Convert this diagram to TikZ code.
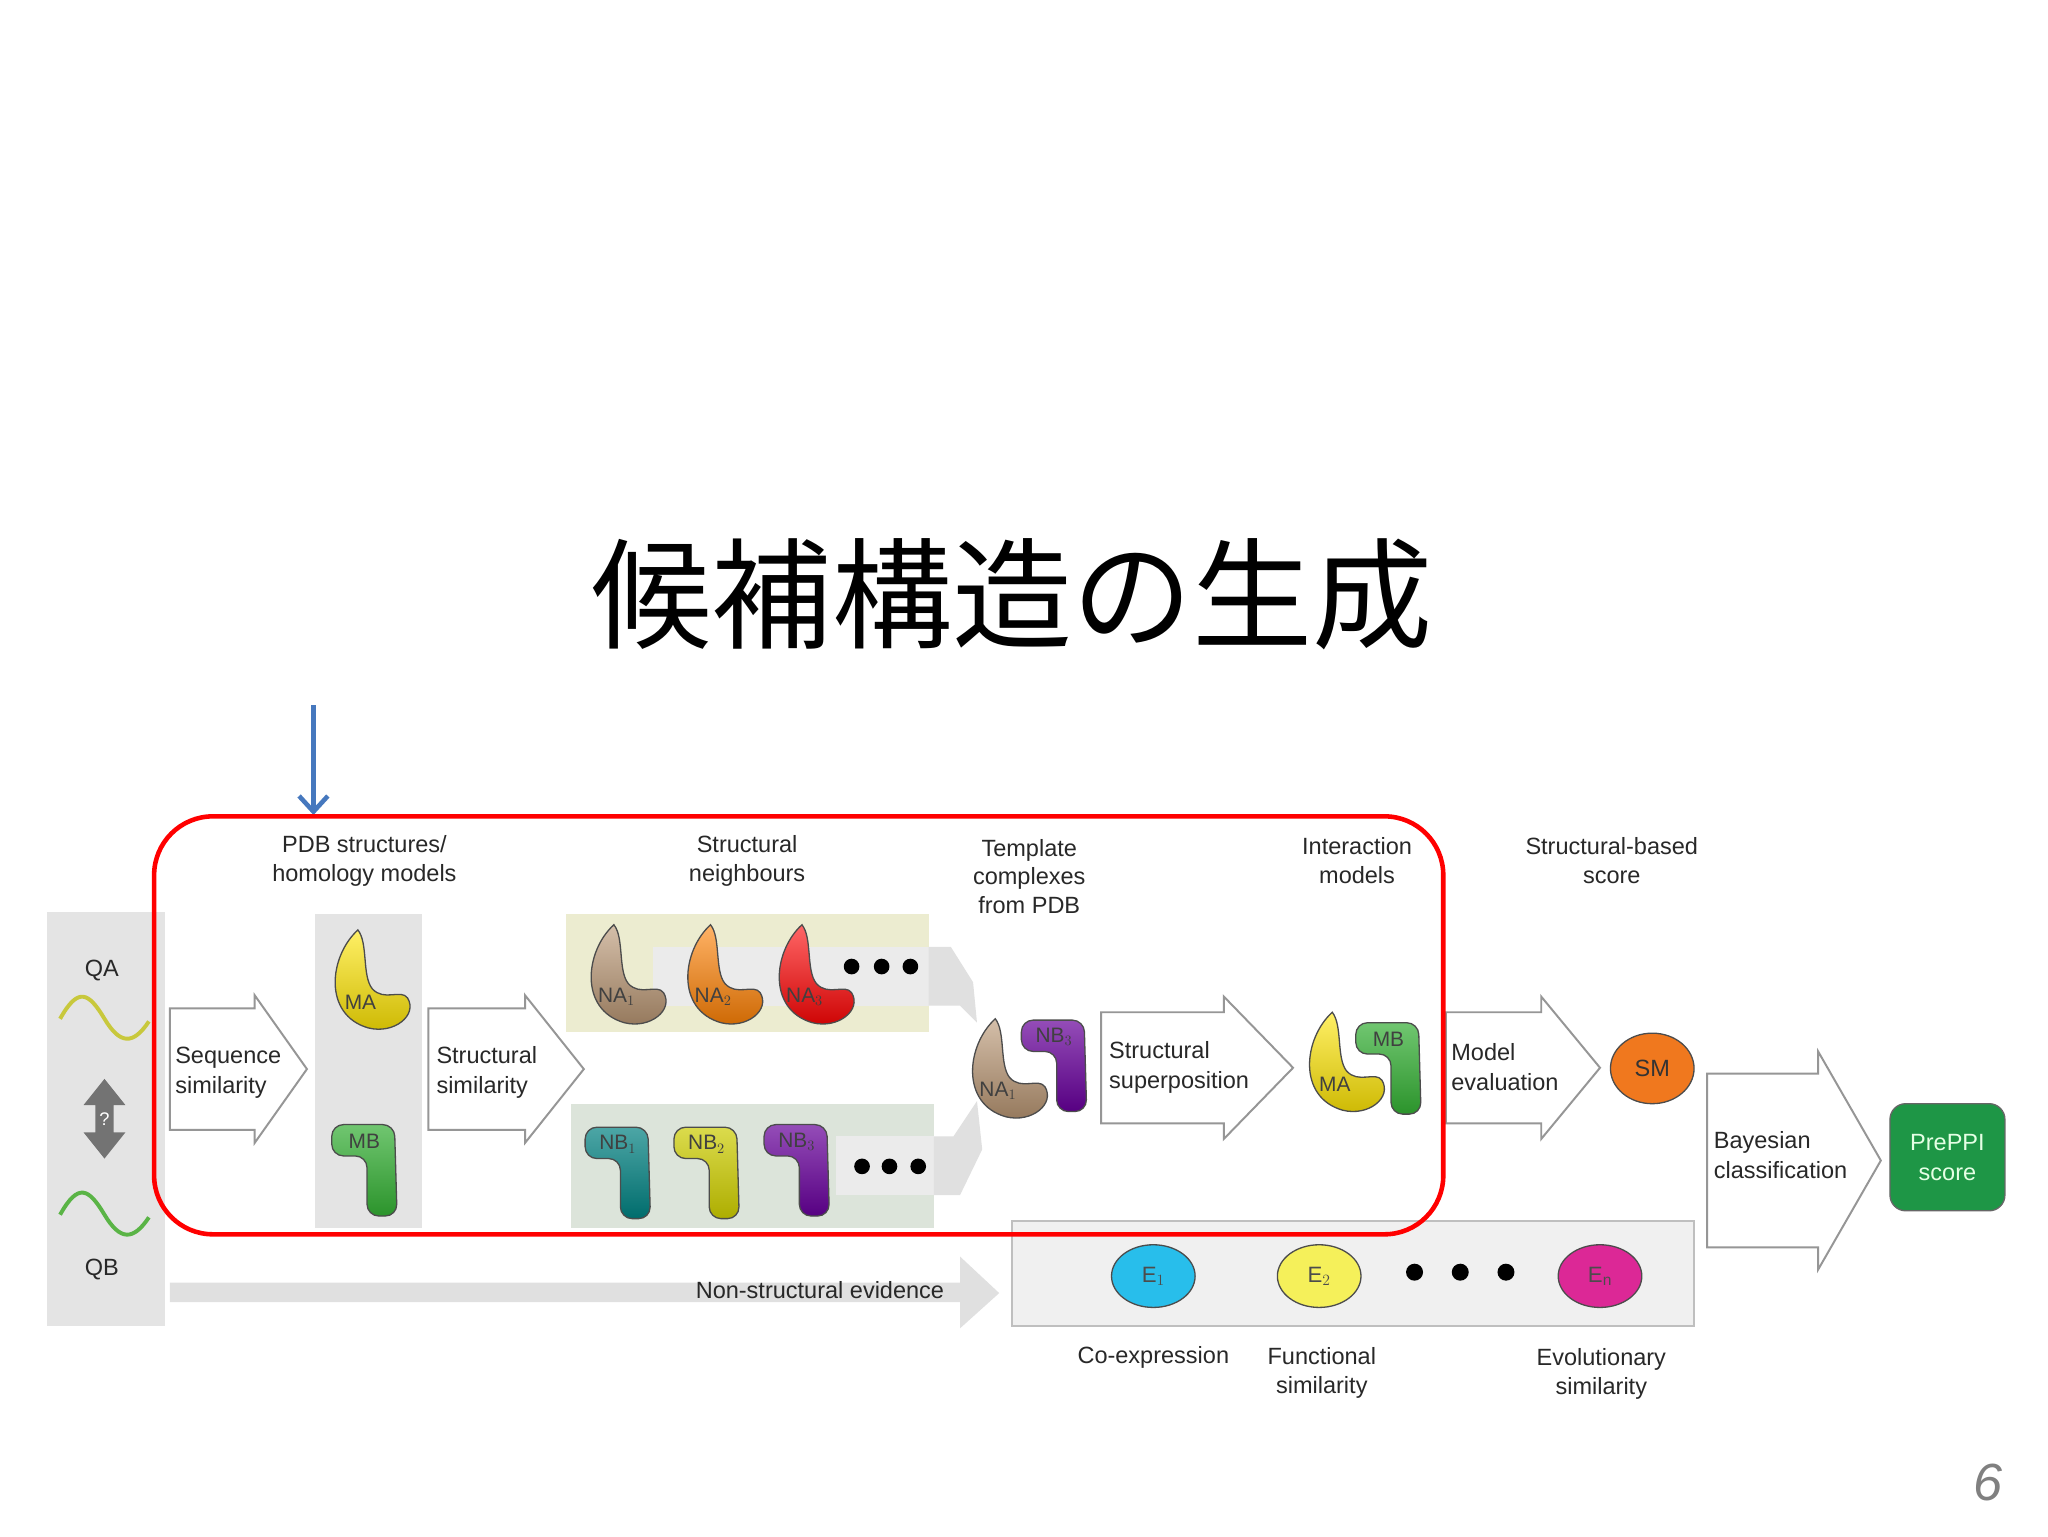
\documentclass[tikz,border=0pt]{standalone}
\usepackage{fontspec}
\setmainfont{Liberation Sans}
\newfontfamily\cjk{Noto Sans CJK JP}
\usetikzlibrary{arrows.meta,shapes.geometric}
\definecolor{txt}{RGB}{40,40,40}
\definecolor{panel}{RGB}{228,228,228}
\definecolor{ybox}{RGB}{236,236,208}
\definecolor{gbox}{RGB}{220,228,218}
\definecolor{arr}{RGB}{150,150,150}
\tikzset{
  lab/.style={font=\fontsize{18}{22}\selectfont, text=txt, align=center, inner sep=0pt},
  labl/.style={font=\fontsize{18}{23}\selectfont, text=txt, align=left, inner sep=0pt, anchor=west},
  blk/.style={draw=arr, line width=1.5pt, fill=white, line join=miter},
  prot/.style={draw=black!70, line width=1pt},
  pics/na/.style args={#1/#2}{code={
    \path[prot, top color=#1!60!white, bottom color=#1!80!black]
      (-8,-40) .. controls (-30,-20) and (-35,25) .. (0,35) .. controls (20,40) and (38,25) .. (30,12)
      .. controls (25,5) and (12,15) .. (3,5) .. controls (-5,-5) and (0,-30) .. (-8,-40) -- cycle;
    \node[font=\fontsize{16}{18}\selectfont, text=black!75] at (-6,15) {#2};}},
  pics/nb/.style args={#1/#2}{code={
    \path[prot, rounded corners=9pt, top color=#1!70!white, bottom color=#1!85!black]
      (-30,-32) -- (18,-32) -- (20,38) -- (-3,38) -- (-3,-8) -- (-30,-8) -- cycle;
    \node[font=\fontsize{16}{18}\selectfont, text=black!75] at (-5,-19) {#2};}},
}
\newcommand{\blkarrow}[7]{% x1 x2 xtip yb1 yb2 yh1 yh2
  \path[blk] (#1,#4) -- (#2,#4) -- (#2,#6) -- (#3,{(#4+#5)/2}) -- (#2,#7) -- (#2,#5) -- (#1,#5) -- cycle;}
\begin{document}
\begin{tikzpicture}[x=1pt,y=-1pt]
\useasboundingbox[fill=white] (0,0) rectangle (1568,1176);
% title
\node (title) at (775,455) {\cjk\fontsize{92}{100}\selectfont 候補構造の生成};
\node[text=gray, font=\fontsize{40}{44}\selectfont\itshape] (pg) at (1522,1135) {6};
% blue arrow
\coordinate (b1) at (240,540); \coordinate (b2) at (240,624);
\draw[line width=3.5pt, color={rgb,255:red,70;green,120;blue,190}, -{Straight Barb[length=12pt,width=22pt]}] (b1) -- (b2);
% left panel
\fill[panel] (36,698) rectangle (126,1015);
\node[lab] (qa) at (78,743) {QA};
\node[lab] (qb) at (78,972) {QB};
\draw[line width=3pt, color={rgb,255:red,200;green,200;blue,60}] (46,780) .. controls (60,755) and (68,760) .. (80,780) .. controls (92,800) and (102,800) .. (114,782);
\draw[line width=3pt, color={rgb,255:red,90;green,180;blue,70}] (46,930) .. controls (60,905) and (68,910) .. (80,930) .. controls (92,950) and (102,950) .. (114,932);
\fill[black!55] (80,826) -- (96,846) -- (87,846) -- (87,867) -- (96,867) -- (80,887) -- (64,867) -- (73,867) -- (73,846) -- (64,846) -- cycle;
\node[text=white, font=\fontsize{14}{16}\selectfont] (q) at (80,857) {?};
% MA/MB column
\fill[panel] (241,700) rectangle (323,940);
\pic at (282,752) {na={yellow!80!orange/MA}};
\pic at (284,893) {nb={green!60!black!80!white/MB}};
% arrows
\blkarrow{130}{195}{235}{772}{865}{762}{875}
\node[labl] (seq) at (134,821) {Sequence\\similarity};
\blkarrow{328}{402}{447}{772}{865}{762}{875}
\node[labl] (ss) at (334,821) {Structural\\similarity};
% neighbour boxes
\fill[ybox] (433,700) rectangle (711,790);
\fill[gbox] (437,845) rectangle (715,940);
\fill[black!8] (500,725) rectangle (711,770);
\fill[black!8] (640,870) rectangle (715,915);
\path[fill=black!12] (711,725) -- (728,725) -- (745,752) -- (748,783) -- (735,770) -- (711,770) -- cycle;
\path[fill=black!12] (715,870) -- (730,870) -- (748,843) -- (752,880) -- (735,915) -- (715,915) -- cycle;
\pic at (478,748) {na={brown!80!black!70!white/NA$_1$}};
\pic at (552,748) {na={orange/NA$_2$}};
\pic at (622,748) {na={red/NA$_3$}};
\foreach \x in {652,675,697} \fill[black] (\x,740) circle (6);
\pic at (478,895) {nb={teal/NB$_1$}};
\pic at (546,895) {nb={yellow!80!black/NB$_2$}};
\pic at (615,893) {nb={violet!80!blue/NB$_3$}};
\foreach \x in {660,681,703} \fill[black] (\x,893) circle (6);
% template complex
\pic at (770,820) {na={brown!80!black!70!white/NA$_1$}};
\pic at (812,813) {nb={violet!80!blue/NB$_3$}};
\blkarrow{843}{937}{990}{775}{860}{763}{872}
\node[labl] (sp) at (849,817) {Structural\\superposition};
% interaction model
\pic at (1028,815) {na={yellow!80!orange/MA}};
\pic at (1068,815) {nb={green!60!black!80!white/MB}};
\blkarrow{1107}{1180}{1225}{775}{860}{763}{872}
\node[labl] (me) at (1111,817) {Model\\evaluation};
\node[draw=black!70, line width=1pt, fill={rgb,255:red,240;green,120;blue,30}, ellipse, minimum width=64pt, minimum height=54pt, inner sep=0pt, font=\fontsize{18}{20}\selectfont, text=black!80] (sm) at (1265,818) {SM};
% bayesian
\blkarrow{1307}{1392}{1440}{822}{955}{805}{972}
\node[labl] (bc) at (1312,884) {Bayesian\\classification};
\node[draw=black!60, line width=1pt, fill={rgb,255:red,30;green,150;blue,70}, rounded corners=12pt, minimum width=88pt, minimum height=82pt, text=white!90!green, font=\fontsize{18}{23}\selectfont, align=center] (pp) at (1491,886) {PrePPI\\score};
% evidence
\draw[black!25, fill=black!6, line width=1.5pt] (775,935) rectangle (1297,1015);
\node[draw=black!70, line width=1pt, fill={rgb,255:red,40;green,190;blue,235}, ellipse, minimum width=64pt, minimum height=48pt, inner sep=0pt, font=\fontsize{17}{19}\selectfont, text=black!70] (e1) at (883,977) {E$_1$};
\node[draw=black!70, line width=1pt, fill={rgb,255:red,245;green,240;blue,90}, ellipse, minimum width=64pt, minimum height=48pt, inner sep=0pt, font=\fontsize{17}{19}\selectfont, text=black!70] (e2) at (1010,977) {E$_2$};
\node[draw=black!70, line width=1pt, fill={rgb,255:red,220;green,40;blue,150}, ellipse, minimum width=64pt, minimum height=48pt, inner sep=0pt, font=\fontsize{17}{19}\selectfont, text=black!70] (en) at (1225,977) {E$_\mathrm{n}$};
\foreach \x in {1083,1118,1153} \fill[black] (\x,974) circle (6.5);
\node[lab] (ce) at (883,1039) {Co-expression};
\node[lab] (fs) at (1012,1051) {Functional\\similarity};
\node[lab] (es) at (1226,1052) {Evolutionary\\similarity};
% non-structural
\path[fill=black!12] (130,982) -- (735,982) -- (735,962) -- (765,990) -- (735,1017) -- (735,997) -- (130,997) -- cycle;
\node[lab, anchor=east] (ns) at (723,988) {Non-structural evidence};
% top labels
\node[lab] (l1) at (279,659) {PDB structures/\\homology models};
\node[lab] (l2) at (572,659) {Structural\\neighbours};
\node[lab] (l3) at (788,671) {Template\\complexes\\from PDB};
\node[lab] (l4) at (1039,659) {Interaction\\models};
\node[lab] (l5) at (1234,659) {Structural-based\\score};
% red frame
\draw[red, line width=3.5pt, rounded corners=45pt] (118,625) rectangle (1105,945);
\end{tikzpicture}
\end{document}
